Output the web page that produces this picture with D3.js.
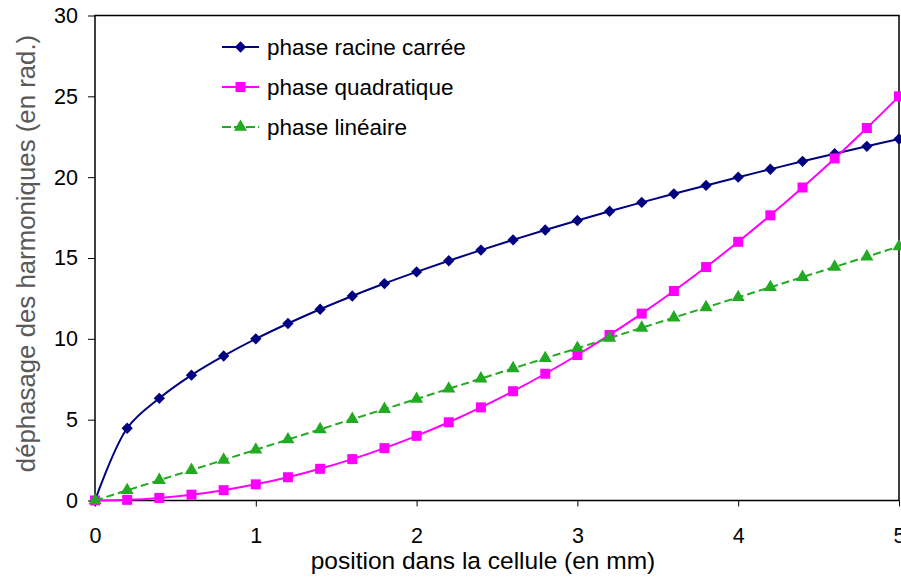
<!DOCTYPE html>
<html>
<head>
<meta charset="utf-8">
<script src="https://cdn.jsdelivr.net/npm/d3@7"></script>
<style>
  body { margin: 0; background: #fff; }
  text { font-family: "Liberation Sans", Arial, sans-serif; }
</style>
</head>
<body>
<svg id="chart" width="901" height="579"></svg>
<script>
// positions along the cell (mm)
const positions = [0, 0.2, 0.4, 0.6, 0.8, 1, 1.2, 1.4, 1.6, 1.8, 2, 2.2, 2.4, 2.6, 2.8, 3,
  3.2, 3.4, 3.6, 3.8, 4, 4.2, 4.4, 4.6, 4.8, 5]

const phaseRacine = [0, 4.47, 6.32, 7.75, 8.94, 10, 10.95, 11.83, 12.65, 13.42, 14.14, 14.83,
  15.49, 16.12, 16.73, 17.32, 17.89, 18.44, 18.97, 19.49, 20, 20.49, 20.98, 21.45, 21.91, 22.36]

const phaseQuadratique = [0, 0.04, 0.16, 0.36, 0.64, 1, 1.44, 1.96, 2.56, 3.24, 4, 4.84,
  5.76, 6.76, 7.84, 9, 10.24, 11.56, 12.96, 14.44, 16, 17.64, 19.36, 21.16, 23.04, 25]

const phaseLineaire = [0, 0.63, 1.26, 1.88, 2.51, 3.14, 3.77, 4.4, 5.03, 5.65, 6.28, 6.91,
  7.54, 8.17, 8.8, 9.42, 10.05, 10.68, 11.31, 11.94, 12.57, 13.19, 13.82, 14.45, 15.08, 15.71]

const xTicks = [0, 1, 2, 3, 4, 5]
const yTicks = [0, 5, 10, 15, 20, 25, 30]

// diamond = square turned 45deg, so it looks like the excel marker
const series = [
  { name: 'phase racine carrée', values: phaseRacine, color: '#000080', symbol: d3.symbolSquare, size: 64, rotate: 45, dash: null },
  { name: 'phase quadratique', values: phaseQuadratique, color: '#ff00ff', symbol: d3.symbolSquare, size: 100, rotate: 0, dash: null },
  { name: 'phase linéaire', values: phaseLineaire, color: '#22aa22', symbol: d3.symbolTriangle, size: 75, rotate: 0, dash: '8,4' }
]

const svg = d3.select('#chart')
const plot = { left: 95, right: 899, top: 15.5, bottom: 500.5 }

const x = d3.scaleLinear().domain([0, 5]).range([plot.left, plot.right])
const y = d3.scaleLinear().domain([0, 30]).range([plot.bottom, plot.top])

// frame
svg.append('rect')
  .attr('x', plot.left).attr('y', plot.top)
  .attr('width', plot.right - plot.left).attr('height', plot.bottom - plot.top)
  .attr('fill', 'none').attr('stroke', '#000').attr('stroke-width', 1.5)

const yAxis = svg.append('g')
  .attr('transform', `translate(${plot.left},0)`)
  .call(d3.axisLeft(y).tickValues(yTicks).tickSize(7).tickPadding(10))
yAxis.select('.domain').remove()
yAxis.selectAll('text').attr('font-size', 21.5).attr('fill', '#000')
  .attr('font-family', '"Liberation Sans", Arial, sans-serif')

const xAxis = svg.append('g')
  .attr('transform', `translate(0,${plot.bottom})`)
  .call(d3.axisBottom(x).tickValues(xTicks).tickFormat(d3.format('d')).tickSize(6).tickPadding(21))
xAxis.select('.domain').remove()
xAxis.selectAll('text').attr('font-size', 21.5).attr('fill', '#000')
  .attr('font-family', '"Liberation Sans", Arial, sans-serif')

// axis titles
svg.append('text')
  .attr('x', 483).attr('y', 569)
  .attr('text-anchor', 'middle').attr('font-size', 24.5)
  .text('position dans la cellule (en mm)')

svg.append('text')
  .attr('transform', 'translate(35,253.5) rotate(-90)')
  .attr('text-anchor', 'middle').attr('font-size', 25.8).attr('fill', '#595959')
  .text('déphasage des harmoniques (en rad.)')

const line = d3.line()
  .x((d, i) => x(positions[i]))
  .y(d => y(d))
  .curve(d3.curveCatmullRom.alpha(0.5))

for (const s of series) {
  svg.append('path')
    .datum(s.values)
    .attr('d', line)
    .attr('fill', 'none')
    .attr('stroke', s.color)
    .attr('stroke-width', 2)
    .attr('stroke-dasharray', s.dash)

  svg.append('g').selectAll('path')
    .data(s.values)
    .join('path')
    .attr('transform', (d, i) => `translate(${x(positions[i])},${y(d)}) rotate(${s.rotate})`)
    .attr('d', d3.symbol(s.symbol, s.size))
    .attr('fill', s.color)
}

// legend
const legend = svg.append('g').attr('transform', 'translate(222,47)')
series.forEach((s, i) => {
  const row = legend.append('g').attr('transform', `translate(0,${i * 40})`)
  row.append('line')
    .attr('x1', 0).attr('x2', 37).attr('y1', 0).attr('y2', 0)
    .attr('stroke', s.color).attr('stroke-width', 2)
    .attr('stroke-dasharray', s.dash ? '9,3' : null)
  row.append('path')
    .attr('transform', `translate(18.5,0) rotate(${s.rotate})`)
    .attr('d', d3.symbol(s.symbol, s.size))
    .attr('fill', s.color)
  row.append('text')
    .attr('x', 45).attr('y', 8)
    .attr('font-size', 22.5)
    .text(s.name)
})
</script>
</body>
</html>
